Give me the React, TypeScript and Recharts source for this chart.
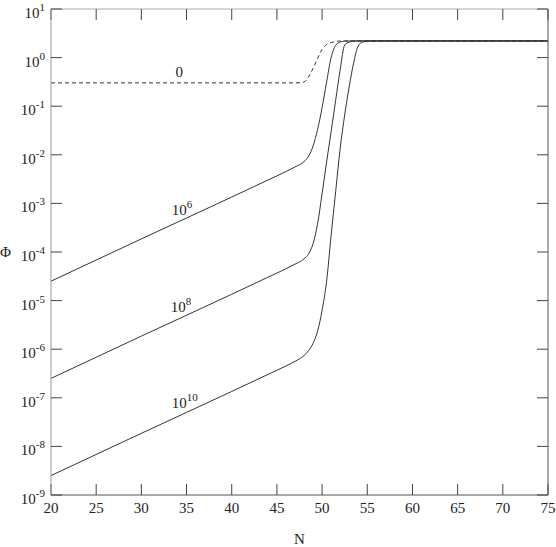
import React from "react"
import { LineChart, Line, XAxis, YAxis, ReferenceDot, Label } from "recharts"

// sample points along N
const nGrid = [20, 30, 40, 44, 46, 47, 48, 48.5, 49, 49.5, 50, 50.5, 51, 51.5, 52, 52.5, 53, 53.5, 54, 54.5, 55, 56, 75]

// curve "0" (dashed)
const phi0 = [0.302, 0.302, 0.302, 0.302, 0.302, 0.302, 0.316, 0.398, 0.603, 0.955, 1.48, 1.86, 2.04, 2.14, 2.2, 2.2, 2.2, 2.2, 2.2, 2.2, 2.2, 2.2, 2.2]
// curve 10^6
const phi6 = [2.51e-5, 1.86e-4, 1.35e-3, 3.02e-3, 4.52e-3, 5.62e-3, 7.24e-3, 9.33e-3, 1.51e-2, 3.31e-2, 9.33e-2, 0.316, 1.0, 1.78, 2.09, 2.18, 2.2, 2.2, 2.2, 2.2, 2.2, 2.2, 2.2]
// curve 10^8
const phi8 = [2.51e-7, 1.86e-6, 1.35e-5, 3.02e-5, 4.52e-5, 5.62e-5, 7.24e-5, 9.12e-5, 1.48e-4, 3.8e-4, 1.58e-3, 7.08e-3, 3.02e-2, 0.132, 0.562, 1.82, 2.09, 2.18, 2.2, 2.2, 2.2, 2.2, 2.2]
// curve 10^10
const phi10 = [2.51e-9, 1.86e-8, 1.35e-7, 3.02e-7, 4.52e-7, 5.62e-7, 7.41e-7, 9.33e-7, 1.32e-6, 2.34e-6, 6.31e-6, 2.51e-5, 2.19e-4, 1.74e-3, 1.35e-2, 6.61e-2, 0.251, 0.794, 1.74, 2.09, 2.19, 2.2, 2.2]

const xTicks = [20, 25, 30, 35, 40, 45, 50, 55, 60, 65, 70, 75]
const yTicks = [1e-9, 1e-8, 1e-7, 1e-6, 1e-5, 1e-4, 1e-3, 1e-2, 1e-1, 1, 10]

const data = nGrid.map((n, i) => ({ n, p0: phi0[i], p6: phi6[i], p8: phi8[i], p10: phi10[i] }))

const FONT = "'Liberation Serif', 'Times New Roman', serif"
const INK = "#333"

const YTick = (props: any) => {
    const { x, y, payload } = props
    const e = Math.round(Math.log10(payload.value))
    return (
        <text x={x - 6} y={y + 9} textAnchor="end" style={{ fontFamily: FONT }} fontSize={15} fill="#222">
            <tspan>10</tspan>
            <tspan dy={-7} fontSize={11}>{e}</tspan>
        </text>
    )
}

const XTick = (props: any) => {
    const { x, y, payload } = props
    return (
        <text x={x} y={y + 18} textAnchor="middle" style={{ fontFamily: FONT }} fontSize={15} fill="#222">
            {payload.value}
        </text>
    )
}

const NoTick = () => <g />

const tag = (base: string, sup?: string) => (p: any) => (
    <text x={p.cx} y={p.cy} textAnchor="middle" style={{ fontFamily: FONT }} fontSize={15} fill="#222">
        <tspan>{base}</tspan>
        {sup && <tspan dy={-7} fontSize={11}>{sup}</tspan>}
    </text>
)

export default function App() {
    return (
        <div style={{ position: "absolute", left: 0, top: 0 }}>
            <LineChart width={556} height={547} data={data} margin={{ top: 0, right: 0, bottom: 0, left: 0 }}>
                <XAxis
                    dataKey="n"
                    type="number"
                    domain={[20, 75]}
                    ticks={xTicks}
                    height={52}
                    tickSize={-11}
                    tickMargin={11}
                    tick={<XTick />}
                    axisLine={{ stroke: "#555" }}
                    tickLine={{ stroke: "#444" }}
                    allowDataOverflow
                >
                    <Label value="N" position="insideBottom" offset={3} style={{ fontFamily: FONT }} fontSize={15} fill="#222" />
                </XAxis>
                <XAxis
                    xAxisId="top"
                    orientation="top"
                    dataKey="n"
                    type="number"
                    domain={[20, 75]}
                    ticks={xTicks}
                    height={9}
                    tickSize={-11}
                    tick={<NoTick />}
                    axisLine={{ stroke: "#aaa" }}
                    tickLine={{ stroke: "#444" }}
                    allowDataOverflow
                />
                <YAxis
                    scale="log"
                    type="number"
                    domain={[1e-9, 10]}
                    ticks={yTicks}
                    width={51}
                    tickSize={-11}
                    tickMargin={11}
                    tick={<YTick />}
                    axisLine={{ stroke: "#999" }}
                    tickLine={{ stroke: "#444" }}
                    allowDataOverflow
                    interval={0}
                >
                    <Label value="Φ" position="insideLeft" angle={0} offset={0} style={{ fontFamily: FONT }} fontSize={15} fill="#222" />
                </YAxis>
                <YAxis
                    yAxisId="right"
                    orientation="right"
                    scale="log"
                    type="number"
                    domain={[1e-9, 10]}
                    ticks={yTicks}
                    width={8}
                    tickSize={-11}
                    tick={<NoTick />}
                    axisLine={{ stroke: "#555" }}
                    tickLine={{ stroke: "#444" }}
                    allowDataOverflow
                    interval={0}
                />
                <Line dataKey="p0" type="monotone" stroke={INK} strokeWidth={1} strokeDasharray="4 3" dot={false} isAnimationActive={false} />
                <Line dataKey="p6" type="monotone" stroke={INK} strokeWidth={1} dot={false} isAnimationActive={false} />
                <Line dataKey="p8" type="monotone" stroke={INK} strokeWidth={1} dot={false} isAnimationActive={false} />
                <Line dataKey="p10" type="monotone" stroke={INK} strokeWidth={1} dot={false} isAnimationActive={false} />
                <ReferenceDot x={34.2} y={0.39} r={1} shape={tag("0")} ifOverflow="visible" />
                <ReferenceDot x={34.5} y={5.7e-4} r={1} shape={tag("10", "6")} ifOverflow="visible" />
                <ReferenceDot x={34.4} y={5.7e-6} r={1} shape={tag("10", "8")} ifOverflow="visible" />
                <ReferenceDot x={34.8} y={6.2e-8} r={1} shape={tag("10", "10")} ifOverflow="visible" />
            </LineChart>
        </div>
    )
}
